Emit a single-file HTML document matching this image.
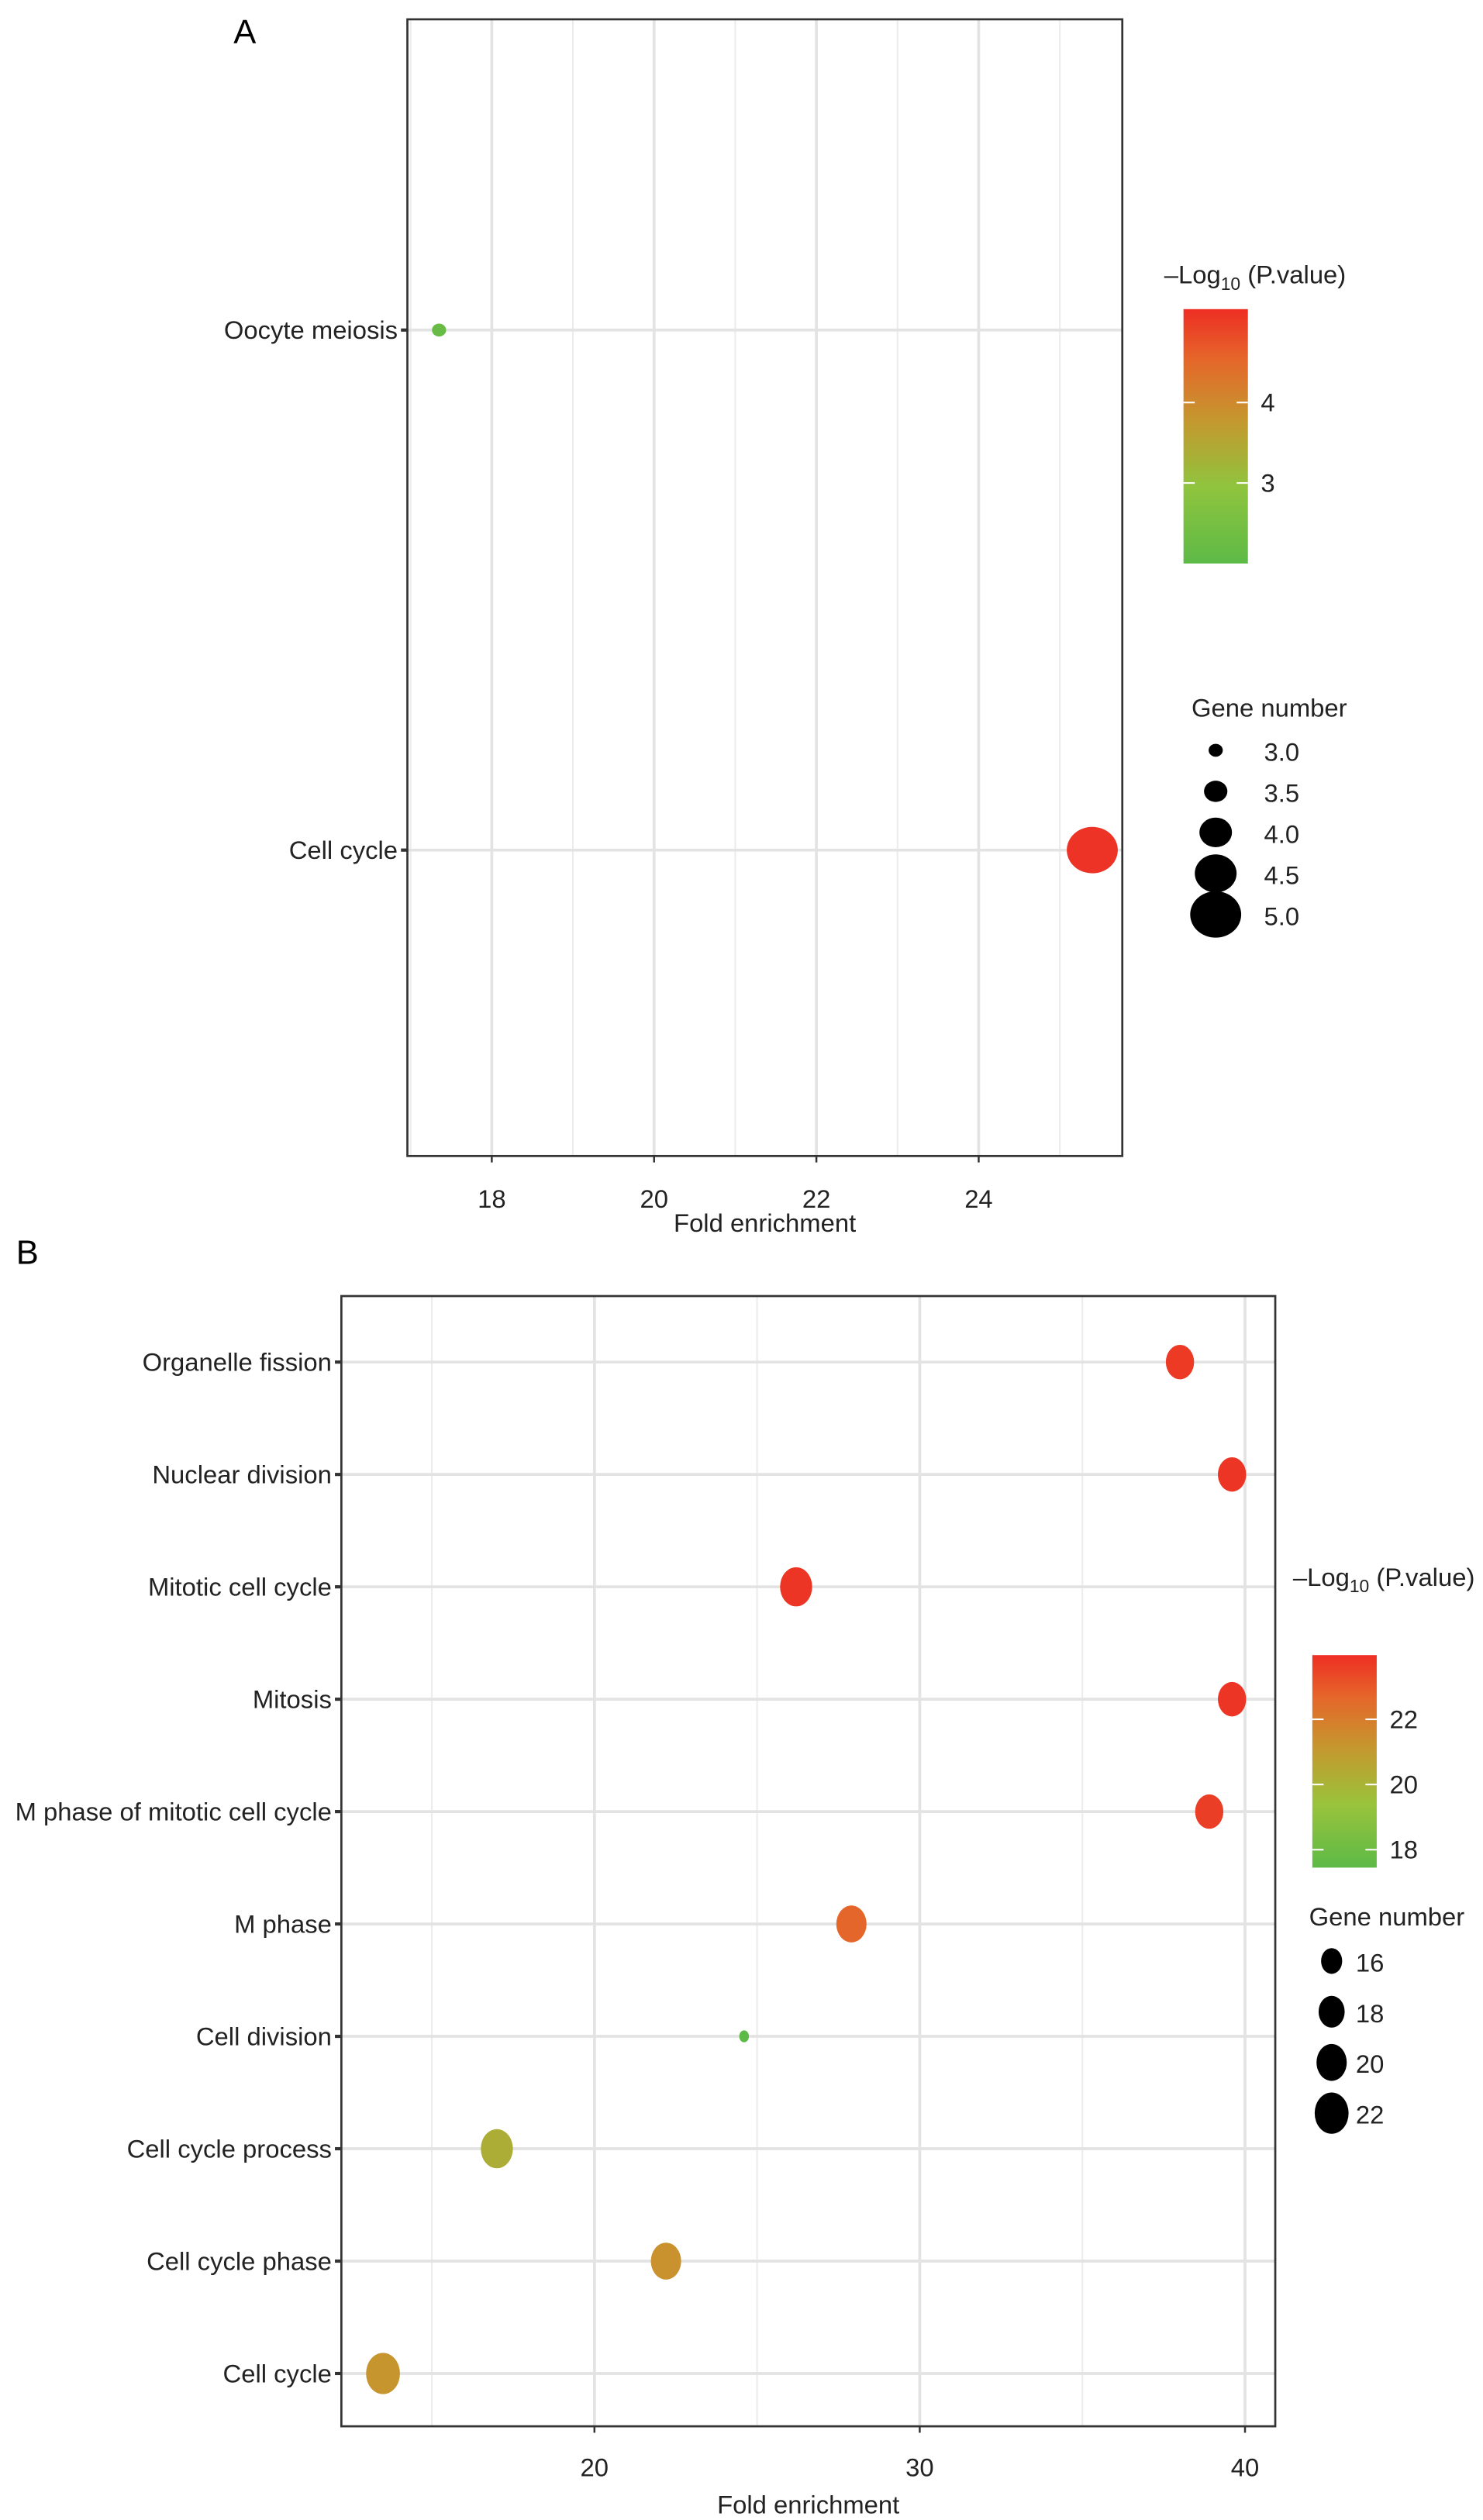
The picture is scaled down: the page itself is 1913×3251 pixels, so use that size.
<!DOCTYPE html>
<html><head><meta charset="utf-8"><style>
html,body{margin:0;padding:0;background:#fff;}
svg{display:block;font-family:"Liberation Sans",sans-serif;}
</style></head><body>
<svg id="fig" width="1913" height="3251" viewBox="0 0 921 1565.2" xmlns="http://www.w3.org/2000/svg">
<defs>
<linearGradient id="gA" x1="0" y1="1" x2="0" y2="0">
<stop offset="0" stop-color="#5dba47"/><stop offset="0.3" stop-color="#8fc43e"/><stop offset="0.55" stop-color="#c39a2f"/><stop offset="0.8" stop-color="#e5672a"/><stop offset="1" stop-color="#ee2e24"/>
</linearGradient>
<linearGradient id="gB" x1="0" y1="1" x2="0" y2="0">
<stop offset="0" stop-color="#5dba47"/><stop offset="0.3" stop-color="#9ac33c"/><stop offset="0.55" stop-color="#c39a2f"/><stop offset="0.8" stop-color="#e5672a"/><stop offset="1" stop-color="#ee2e24"/>
</linearGradient>
</defs>
<text x="145" y="27" font-size="21">A</text>
<text x="10" y="785" font-size="21">B</text>
<g id="panelA"></g>
<g id="panelB"></g>
</svg>
<script>
// Panel A data
const catsA = ["Oocyte meiosis", "Cell cycle"];
const foldA = [17.35, 25.4];
const pA = [2.2, 5.1];
const genesA = [3, 5];
const xTicksA = [18, 20, 22, 24];
const cbTicksA = [3, 4];
const sizeLegendA = [3.0, 3.5, 4.0, 4.5, 5.0];

// Panel B data
const catsB = ["Organelle fission","Nuclear division","Mitotic cell cycle","Mitosis","M phase of mitotic cell cycle","M phase","Cell division","Cell cycle process","Cell cycle phase","Cell cycle"];
const foldB = [38.0, 39.6, 26.2, 39.6, 38.9, 27.9, 24.6, 17.0, 22.2, 13.5];
const pB = [23.7, 23.8, 23.8, 23.8, 23.6, 22.7, 17.5, 20.3, 21.3, 21.2];
const genesB = [19, 19, 21, 19, 19, 20, 13, 21, 20, 22];
const xTicksB = [20, 30, 40];
const cbTicksB = [18, 20, 22];
const sizeLegendB = [16, 18, 20, 22];

const FS = 15.8;
const NS = "http://www.w3.org/2000/svg";
function mk(parent, tag, attrs, text){
  const e = document.createElementNS(NS, tag);
  for (const k in attrs) e.setAttribute(k, attrs[k]);
  if (text !== undefined) e.textContent = text;
  parent.appendChild(e);
  return e;
}
function lerp(a,b,t){return a+(b-a)*t;}
function hex(c){return [parseInt(c.slice(1,3),16),parseInt(c.slice(3,5),16),parseInt(c.slice(5,7),16)];}
const stops=[[0,"#5dba47"],[0.3,"#8fc43e"],[0.55,"#c39a2f"],[0.8,"#e5672a"],[1,"#ee2e24"]];
function colorAt(t){
  t=Math.max(0,Math.min(1,t));
  for(let i=1;i<stops.length;i++){
    if(t<=stops[i][0]){
      const u=(t-stops[i-1][0])/(stops[i][0]-stops[i-1][0]);
      const a=hex(stops[i-1][1]), b=hex(stops[i][1]);
      return "rgb("+Math.round(lerp(a[0],b[0],u))+","+Math.round(lerp(a[1],b[1],u))+","+Math.round(lerp(a[2],b[2],u))+")";
    }
  }
  return stops[stops.length-1][1];
}

function drawPanel(g, cfg){
  const {L,R,T,B,xmin,xmax,rows,cats,fold,pv,genes,xTicks,minorStep,pmin,pmax,cb,cbTicks,sizeLeg,rad,aspect,cbGrad,xTitleY,tickY,legTitleX,legTitleY,genTitleX,genTitleY,genY,genX,labX} = cfg;
  const xs = v => L + (v - xmin) / (xmax - xmin) * (R - L);
  const ys = i => rows[0] + i * (rows[1] - rows[0]);
  for (let v = xTicks[0] - minorStep; v <= xmax; v += minorStep*2) {
    if (v < xmin) continue;
    const ln = mk(g, "line", {x1: xs(v), x2: xs(v), y1: T, y2: B, stroke: "#ececec", "stroke-width": 1});
    
    
  }
  for (const v of xTicks) {
    const ln = mk(g, "line", {x1: xs(v), x2: xs(v), y1: T, y2: B, stroke: "#e3e3e3", "stroke-width": 1.8});
    
    
    const tk = mk(g, "line", {x1: xs(v), x2: xs(v), y1: B, y2: B + 4, stroke: "#333", "stroke-width": 1.2});
    
    
    const tl = mk(g, "text", {x: xs(v), y: tickY, "font-size": FS, "text-anchor": "middle", fill: "#222"}, String(v));
    
    
  }
  cats.forEach((c, i) => {
    const y = ys(i);
    const ln = mk(g, "line", {x1: L, x2: R, y1: y, y2: y, stroke: "#e3e3e3", "stroke-width": 1.8});
    
    
    const tk = mk(g, "line", {x1: L - 4, x2: L, y1: y, y2: y, stroke: "#333", "stroke-width": 2});
    
    
    const tl = mk(g, "text", {x: L - 6, y: y + 5.5, "font-size": FS, "text-anchor": "end", fill: "#222"}, c);
    
    
  });
  const box = mk(g, "rect", {x: L, y: T, width: R - L, height: B - T, fill: "none", stroke: "#333", "stroke-width": 1.3});
  
  
  cats.forEach((c, i) => {
    const r = rad(genes[i]);
    const pt = mk(g, "ellipse", {cx: xs(fold[i]), cy: ys(i), rx: r * aspect, ry: r, fill: colorAt((pv[i] - pmin) / (pmax - pmin))});
    
    
  });
  const xt = mk(g, "text", {x: (L + R) / 2, y: xTitleY, "font-size": FS, "text-anchor": "middle", fill: "#222"}, "Fold enrichment");
  
  
  const lt = mk(g, "text", {x: legTitleX, y: legTitleY, "font-size": FS, fill: "#222"});
  
  
  lt.innerHTML = '\u2013Log<tspan font-size="11" dy="4">10</tspan><tspan dy="-4"> (P.value)</tspan>';
  const cbr = mk(g, "rect", {x: cb.x, y: cb.top, width: cb.w, height: cb.bot - cb.top, fill: cbGrad});
  
  
  const cy = v => cb.bot - (v - pmin) / (pmax - pmin) * (cb.bot - cb.top);
  for (const v of cbTicks) {
    const a = mk(g, "line", {x1: cb.x, x2: cb.x + 7, y1: cy(v), y2: cy(v), stroke: "#fff", "stroke-width": 1});
    
    
    const b = mk(g, "line", {x1: cb.x + cb.w - 7, x2: cb.x + cb.w, y1: cy(v), y2: cy(v), stroke: "#fff", "stroke-width": 1});
    
    
    const t = mk(g, "text", {x: cb.x + cb.w + 8, y: cy(v) + 5.5, "font-size": FS, fill: "#222"}, String(v));
    
    
  }
  const gt = mk(g, "text", {x: genTitleX, y: genTitleY, "font-size": FS, fill: "#222"}, "Gene number");
  
  
  sizeLeg.forEach((v, i) => {
    const y = genY[0] + i * (genY[1] - genY[0]);
    const r = rad(v);
    const c = mk(g, "ellipse", {cx: genX, cy: y, rx: r * aspect, ry: r, fill: "#000"});
    
    
    const t = mk(g, "text", {x: labX, y: y + 6.5, "font-size": FS, fill: "#222"}, cfg.fmt(v));
    
    
  });
}

drawPanel(document.getElementById("panelA"), {
  L: 253, R: 697, T: 12, B: 718, xmin: 16.96, xmax: 25.77, rows: [205, 528],
  cats: catsA, fold: foldA, pv: pA, genes: genesA, xTicks: xTicksA, minorStep: 1,
  pmin: 2.0, pmax: 5.16, cb: {x: 735, w: 40, top: 192, bot: 350}, cbTicks: cbTicksA, cbGrad: "url(#gA)",
  sizeLeg: sizeLegendA, rad: g => 4 + (g - 3) * 5.2, aspect: 1.1,
  xTitleY: 765, tickY: 750, legTitleX: 723, legTitleY: 176, genTitleX: 740, genTitleY: 445,
  genY: [466, 491.5], genX: 755, labX: 785, fmt: v => v.toFixed(1)
});
drawPanel(document.getElementById("panelB"), {
  L: 212, R: 792, T: 805, B: 1507, xmin: 12.22, xmax: 40.93, rows: [846, 915.8],
  cats: catsB, fold: foldB, pv: pB, genes: genesB, xTicks: xTicksB, minorStep: 5,
  pmin: 17.45, pmax: 23.97, cb: {x: 815, w: 40, top: 1028, bot: 1160}, cbTicks: cbTicksB, cbGrad: "url(#gB)",
  sizeLeg: sizeLegendB, rad: g => Math.sqrt(Math.max(g - 12.2, 0.2)) * 4.1, aspect: 0.82,
  xTitleY: 1561, tickY: 1538, legTitleX: 803, legTitleY: 985, genTitleX: 813, genTitleY: 1196,
  genY: [1218, 1249.5], genX: 827, labX: 842, fmt: v => String(v)
});
</script>
</body></html>
